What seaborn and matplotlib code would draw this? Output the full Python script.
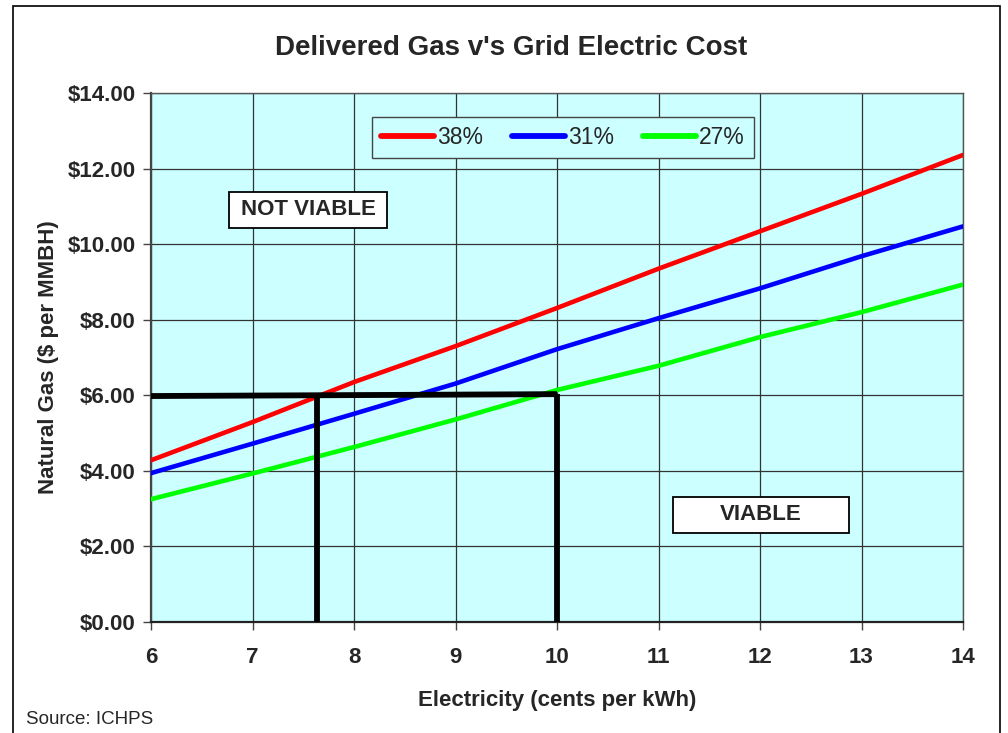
import matplotlib
matplotlib.use("Agg")
import matplotlib.pyplot as plt
import seaborn as sns
import pandas as pd
from matplotlib.patches import Rectangle
from matplotlib.ticker import FuncFormatter

# ---- data ----
electricity = [6, 7, 8, 9, 10, 11, 12, 13, 14]
gas_38 = [4.28, 5.29, 6.35, 7.30, 8.31, 9.35, 10.34, 11.33, 12.36]
gas_31 = [3.94, 4.72, 5.51, 6.31, 7.22, 8.04, 8.83, 9.68, 10.47]
gas_27 = [3.25, 3.93, 4.63, 5.36, 6.14, 6.78, 7.54, 8.20, 8.93]
series_names = ["38%", "31%", "27%"]
series_colors = ["#FF0000", "#0000FF", "#00FF00"]

guide_h_x = [6, 10]
guide_h_y = [5.98, 6.03]
guide_v1_x = [7.64, 7.64]
guide_v1_y = [0, 5.99]
guide_v2_x = [10.0, 10.0]
guide_v2_y = [0, 6.03]

region_labels = ["NOT VIABLE", "VIABLE"]
region_x0 = [6.77, 11.14]
region_x1 = [8.33, 12.88]
region_y0 = [10.43, 2.36]
region_y1 = [11.38, 3.31]

x_ticks = [6, 7, 8, 9, 10, 11, 12, 13, 14]
y_ticks = [0, 2, 4, 6, 8, 10, 12, 14]

df = pd.DataFrame({
    "Electricity": electricity * 3,
    "Gas": gas_38 + gas_31 + gas_27,
    "Series": [s for s in series_names for _ in electricity],
})

sns.set_theme(style="white")
plt.rcParams["font.family"] = ["Liberation Sans", "DejaVu Sans"]

fig = plt.figure(figsize=(10.08, 7.33), dpi=100)
ax = fig.add_axes([151 / 1008, 1 - 622 / 733, (963 - 151) / 1008, (622 - 93) / 733])
ax.set_facecolor("#CCFFFF")

sns.lineplot(data=df, x="Electricity", y="Gas", hue="Series",
             palette=dict(zip(series_names, series_colors)),
             linewidth=3.3, ax=ax, legend=False, zorder=3)

for xs, ys in [(guide_h_x, guide_h_y), (guide_v1_x, guide_v1_y), (guide_v2_x, guide_v2_y)]:
    ax.plot(xs, ys, color="black", linewidth=4.2, zorder=4, solid_capstyle="butt")

ax.set_xlim(6, 14)
ax.set_ylim(0, 14)
ax.set_xticks(x_ticks)
ax.set_yticks(y_ticks)
ax.yaxis.set_major_formatter(FuncFormatter(lambda v, p: f"${v:.2f}"))
ax.grid(True, color="#333333", linewidth=0.9)
ax.set_axisbelow(True)
for s in ax.spines.values():
    s.set_color("#555555")
    s.set_linewidth(1.0)
ax.spines["left"].set_color("#444444")
ax.spines["left"].set_linewidth(1.6)
ax.spines["bottom"].set_color("#222222")
ax.spines["bottom"].set_linewidth(1.6)

ax.tick_params(axis="both", which="both", direction="out", length=6, width=1,
               color="#444444", labelsize=16, bottom=True, left=True)
ax.tick_params(axis="x", pad=12)
ax.tick_params(axis="y", pad=5)
for lab in ax.get_xticklabels() + ax.get_yticklabels():
    lab.set_fontweight("bold")

ax.set_xlabel("Electricity (cents per kWh)", fontsize=16, fontweight="bold", labelpad=16)
ax.set_ylabel("Natural Gas ($ per MMBH)", fontsize=16, fontweight="bold", labelpad=6)

fig.text(0.507, 1 - 48 / 733, "Delivered Gas v's Grid Electric Cost",
         ha="center", va="center", fontsize=20, fontweight="bold")
fig.text(26 / 1008, 1 - 719 / 733, "Source: ICHPS", ha="left", va="center", fontsize=13.5)

# legend
handles = [plt.Line2D([], [], color=c, linewidth=4.2, solid_capstyle="round") for c in series_colors]
leg = ax.legend(handles, series_names, loc="upper center", bbox_to_anchor=(0.5076, 0.955),
                ncol=3, fontsize=16.5, frameon=True, fancybox=False, handlelength=2.3,
                handletextpad=0.15, columnspacing=1.25, borderpad=0.4, borderaxespad=0)
leg.get_frame().set_edgecolor("#444444")
leg.get_frame().set_facecolor("#CCFFFF")
leg.get_frame().set_linewidth(1.0)
leg.get_frame().set_alpha(1)

# region labels in fixed boxes
for txt, x0, x1, y0, y1 in zip(region_labels, region_x0, region_x1, region_y0, region_y1):
    ax.add_patch(Rectangle((x0, y0), x1 - x0, y1 - y0, facecolor="white", edgecolor="black",
                           linewidth=1.3, zorder=6))
    ax.text((x0 + x1) / 2, (y0 + y1) / 2, txt, ha="center", va="center", fontsize=16,
            fontweight="bold", zorder=7)

# figure frame
fig.patches.append(Rectangle((13 / 1008, -0.01), (1000 - 13) / 1008, 1 - 6 / 733 + 0.01,
                             transform=fig.transFigure, fill=False, edgecolor="black",
                             linewidth=1.2, zorder=0))

fig.savefig("out.png", dpi=100)
